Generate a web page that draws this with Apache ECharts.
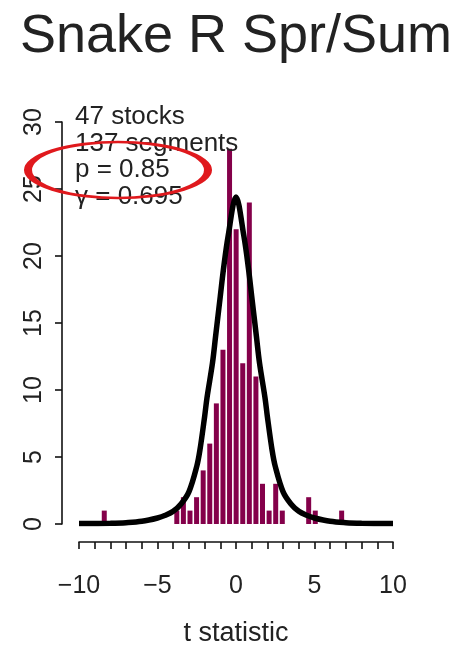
<!DOCTYPE html>
<html><head><meta charset="utf-8">
<script src="https://cdn.jsdelivr.net/npm/echarts@6/dist/echarts.min.js"></script>
<style>html,body{margin:0;padding:0;background:#fff}#chart{width:457px;height:652px}</style>
</head><body><div id="chart"></div>
<script>
const titleText = 'Snake R Spr/Sum';
const notes = ['47 stocks', '137 segments', 'p = 0.85', 'γ = 0.695'];
const xAxisTitle = 't statistic';
const binStart = -8.55;
const binWidth = 0.42;
const counts = [1,0,0,0,0,0,0,0,0,0,0,1,2,1,2,4,6,9,13,28,22,12,24,11,3,1,3,1,0,0,0,2,1,0,0,0,1];
const curveX = [-10,-8,-7,-6,-5,-4.5,-4,-3.5,-3,-2.5,-2.3,-2,-1.85,-1.5,-1.3,-1,-0.8,-0.5,0,0.5,0.8,1,1.3,1.5,1.85,2,2.3,2.5,3,3.5,4,4.5,5,6,7,8,10];
const curveY = [0.03,0.06,0.1,0.2,0.45,0.65,0.95,1.5,2.4,4.3,5.5,8.0,9.4,12.0,14.0,17.0,19.0,21.5,24.4,21.5,19.0,17.0,14.0,12.0,9.4,8.0,5.5,4.3,2.4,1.5,0.95,0.65,0.45,0.2,0.1,0.06,0.03];
const xTickLabels = [-10,-5,0,5,10];

const FONT = 'Liberation Sans';
const TXT = '#222';
const chart = echarts.init(document.getElementById('chart'), null, {renderer:'canvas'});

const barData = counts.map((c,i)=>[binStart+i*binWidth, binStart+(i+1)*binWidth, c]).filter(d=>d[2]>0);

chart.setOption({
  animation:false,
  backgroundColor:'#fff',
  grid:{left:79, right:64, top:122, bottom:125},
  xAxis:{
    type:'value', min:-10, max:10, interval:1, offset:18,
    axisLine:{show:true, onZero:false, lineStyle:{color:'#111', width:1.6}},
    axisTick:{show:true, length:7, lineStyle:{color:'#111', width:1.6}},
    axisLabel:{fontSize:25, fontFamily:FONT, color:TXT, margin:32,
      formatter:v=> xTickLabels.includes(v) ? String(v).replace('-', '\u2212') : ''},
    splitLine:{show:false},
    name:xAxisTitle, nameLocation:'middle', nameGap:78,
    nameTextStyle:{fontSize:27, fontFamily:FONT, color:TXT}
  },
  yAxis:{
    type:'value', min:0, max:30, interval:5, offset:17,
    axisLine:{show:true, onZero:false, lineStyle:{color:'#111', width:1.6}},
    axisTick:{show:true, length:7, lineStyle:{color:'#111', width:1.6}},
    axisLabel:{rotate:90, fontSize:25, fontFamily:FONT, color:TXT, margin:15},
    splitLine:{show:false}
  },
  series:[
    {
      type:'custom',
      data:barData,
      encode:{x:[0,1], y:2},
      z:2,
      renderItem:function(params, api){
        const p0 = api.coord([api.value(0), api.value(2)]);
        const p1 = api.coord([api.value(1), 0]);
        return {type:'rect', shape:{x:p0[0], y:p0[1], width:p1[0]-p0[0]-1.6, height:p1[1]-p0[1]},
          style:{fill:'#84004a'}};
      }
    },
    {
      type:'line',
      data:curveX.map((x,i)=>[x, curveY[i]]),
      showSymbol:false, smooth:0.35, z:3,
      lineStyle:{color:'#000', width:5.5}
    }
  ],
  graphic:[
    {type:'text', x:236, y:37, z:100, style:{text:titleText, fontSize:54, fontFamily:FONT, fill:TXT, align:'center', verticalAlign:'middle'}},
    ...notes.map((t,i)=>({type:'text', x:75, y:117+i*26.5, z:100,
      style:{text:t, fontSize:26, fontFamily:FONT, fill:TXT, align:'left', verticalAlign:'middle'}})),
    {type:'circle', x:118, y:170, scaleX:90/28, z:101,
      shape:{cx:0, cy:0, r:28},
      style:{fill:null, stroke:'#e0191d', lineWidth:2.5, strokeNoScale:true}}
  ]
});
</script></body></html>
